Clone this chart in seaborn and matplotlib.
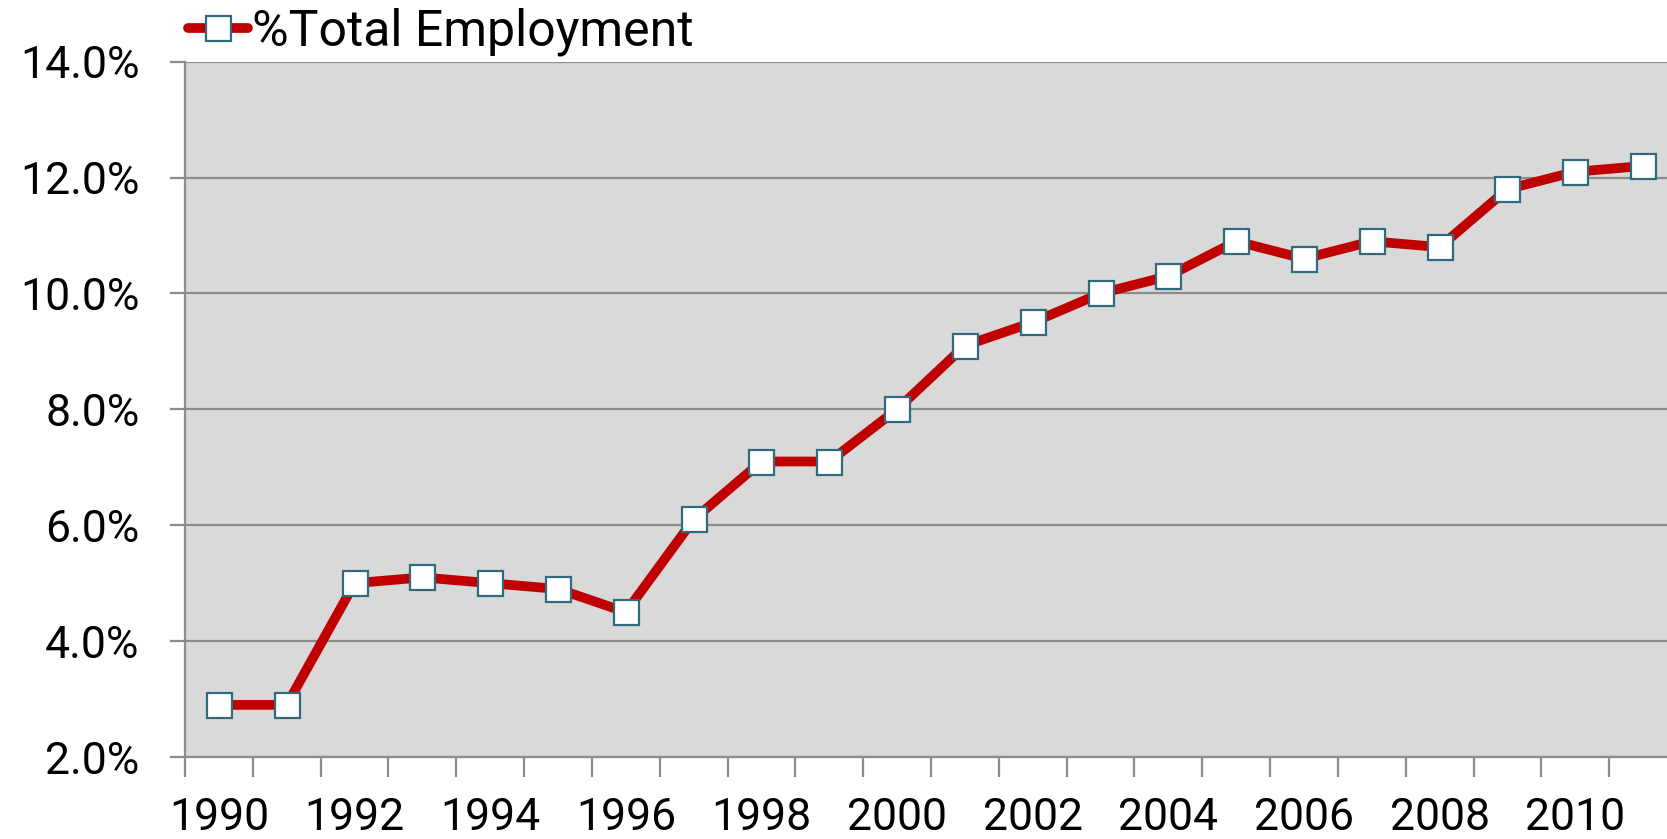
import matplotlib
matplotlib.use("Agg")
import matplotlib.pyplot as plt
import seaborn as sns
import pandas as pd
import numpy as np
from matplotlib.ticker import FixedLocator, FuncFormatter

years = list(range(1990, 2012))
pct_total = [2.9, 2.9, 5.0, 5.1, 5.0, 4.9, 4.5, 6.1, 7.1, 7.1, 8.0, 9.1, 9.5,
             10.0, 10.3, 10.9, 10.6, 10.9, 10.8, 11.8, 12.1, 12.2]
series_name = "%Total Employment"
y_ticks = [2, 4, 6, 8, 10, 12, 14]
x_labels = list(range(1990, 2012, 2))

sns.set_theme(style="white")
plt.rcParams['font.family'] = ['Roboto', 'DejaVu Sans']
plt.rcParams['text.color'] = 'black'

df = pd.DataFrame({"Year": years, "Value": pct_total})

fig = plt.figure(figsize=(16.67, 8.39), dpi=100)
ax = fig.add_axes([0.111, 0.0977, 0.895, 0.8288])
ax.set_facecolor("#d9d9d9")

sns.lineplot(data=df, x="Year", y="Value", ax=ax, color="#c00000", linewidth=7,
             marker="s", markersize=18, markerfacecolor="white",
             markeredgecolor="#31697f", markeredgewidth=1.6, label=series_name,
             zorder=3)

ax.set_xlim(years[0] - 0.5, years[-1] + 0.5)
ax.set_ylim(2, 14)
ax.yaxis.set_major_locator(FixedLocator(y_ticks))
ax.yaxis.set_major_formatter(FuncFormatter(lambda v, p: f"{v:.1f}%"))
ax.grid(axis="y", color="#8c8c8c", linewidth=1.6, zorder=1)
ax.set_axisbelow(True)

ax.xaxis.set_major_locator(FixedLocator(x_labels))
ax.xaxis.set_major_formatter(FuncFormatter(lambda v, p: f"{int(round(v))}"))
ax.xaxis.set_minor_locator(FixedLocator(np.arange(years[0] - 0.5, years[-1] + 1.0, 1.0)))
ax.tick_params(axis="x", which="both", bottom=True)
ax.tick_params(axis="y", which="major", left=True)
ax.tick_params(axis="x", which="major", length=0, pad=29, labelsize=32, labelcolor="black")
ax.tick_params(axis="x", which="minor", length=14.4, width=1.6, color="#8c8c8c", direction="out")
ax.tick_params(axis="y", which="major", length=10.8, width=1.6, color="#8c8c8c",
               direction="out", pad=22, labelsize=32, labelcolor="black")

for s in ["top", "right"]:
    ax.spines[s].set_visible(False)
for s in ["left", "bottom"]:
    ax.spines[s].set_color("#8c8c8c")
    ax.spines[s].set_linewidth(1.6)

ax.set_xlabel("")
ax.set_ylabel("")

leg = ax.legend(loc="center left", bbox_to_anchor=(0.113, 0.962),
                bbox_transform=fig.transFigure, frameon=False, fontsize=36,
                handlelength=1.2, handletextpad=0.08, borderpad=0, borderaxespad=0)
for t in leg.get_texts():
    t.set_color("black")

fig.savefig("out.png", dpi=100)
